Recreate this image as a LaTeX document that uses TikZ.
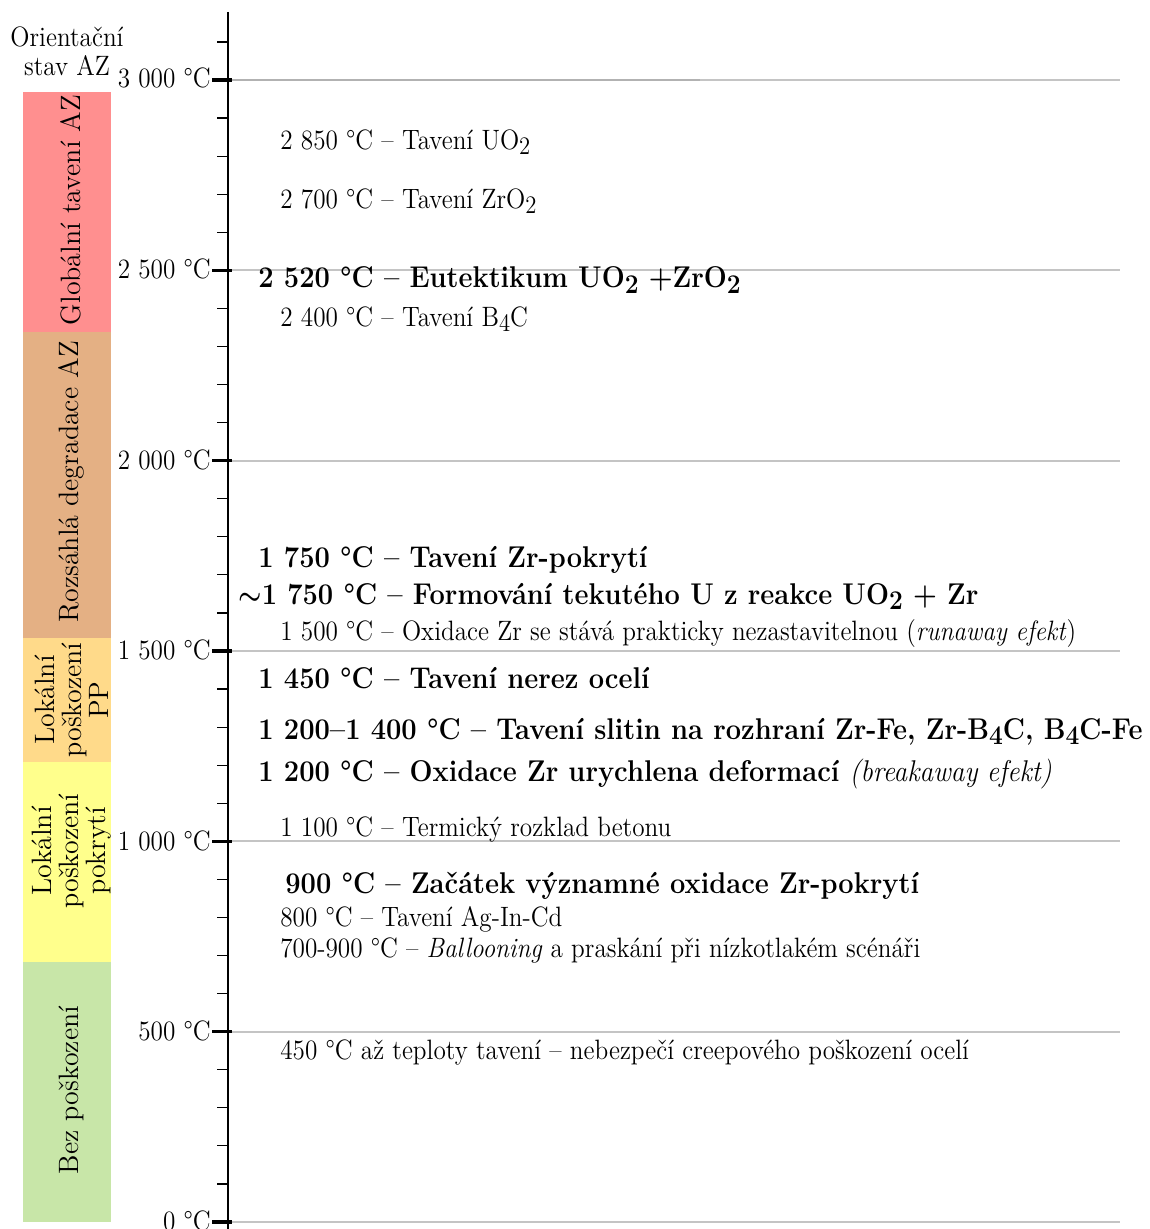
\documentclass[tikz,border=0pt]{standalone}
\usepackage{fontspec}
\definecolor{cglob}{RGB}{255,143,143}
\definecolor{crozs}{RGB}{228,176,132}
\definecolor{clokpp}{RGB}{255,218,138}
\definecolor{clokpok}{RGB}{255,255,140}
\definecolor{cbez}{RGB}{200,230,168}
\definecolor{gridgray}{RGB}{196,196,196}
\definecolor{griddark}{RGB}{178,178,178}
\newcommand{\sbs}[1]{\raisebox{-0.4ex}{\scalebox{0.9}{#1}}}
\begin{document}
\begin{tikzpicture}[x=0.5pt,y=-0.5pt,
  ev/.style={anchor=base west, inner sep=0pt, font=\fontsize{14}{16}\selectfont, xscale=0.9},
  evb/.style={anchor=base west, inner sep=0pt, font=\fontsize{15}{17}\selectfont\bfseries, xscale=0.908},
  ticklab/.style={anchor=base east, inner sep=0pt, font=\fontsize{14}{16}\selectfont, xscale=0.9},
  barlab/.style={rotate=90, align=center, inner sep=0pt, font=\fontsize{14}{13.5}\selectfont},
  gridline/.style={draw=gridgray, line width=1pt},
  minortick/.style={line width=0.6pt},
  majortick/.style={line width=1.6pt},
  axisline/.style={line width=1.2pt}]
\useasboundingbox (0,0) rectangle (1149,1229);
% bars
\fill[cglob]   (23,92)  rectangle (111,332);
\fill[crozs]   (23,332) rectangle (111,638);
\fill[clokpp]  (23,638) rectangle (111,762);
\fill[clokpok] (23,762) rectangle (111,962);
\fill[cbez]    (23,962) rectangle (111,1222);
\node[barlab] (lglob) at (71,210) {Globální tavení AZ};
\node[barlab] (lrozs) at (71,482) {Rozsáhlá degradace AZ};
\node[barlab] (llokpp) at (72,700) {Lokální\\poškození\\PP};
\node[barlab] (llokpok) at (72,851) {Lokální\\poškození\\pokrytí};
\node[barlab] (lbez) at (71,1090) {Bez poškození};
\node[align=center, inner sep=0pt, font=\fontsize{14}{14.5}\selectfont, xscale=0.9] (hdr) at (67,51) {Orientační\\stav AZ};
% grid lines and ticks
\foreach \k in {0,...,6}{
  \pgfmathsetmacro{\yy}{1222-\k*5*38.067}
  \draw[gridline] (232,\yy) -- (1120,\yy);
}
\draw[draw=griddark, line width=1pt] (232,80) -- (700,80);
\foreach \k in {0,...,31}{
  \pgfmathsetmacro{\yy}{1222-\k*38.067}
  \draw[minortick] (217,\yy) -- (228,\yy);
}
\foreach \k in {0,...,6}{
  \pgfmathsetmacro{\yy}{1222-\k*5*38.067}
  \draw[majortick] (212,\yy) -- (232,\yy);
}
\draw[axisline] (228,12) -- (228,1229);
% tick labels
\node[ticklab] (t3000) at (211,88) {3 000 °C};
\node[ticklab] (t2500) at (211,279) {2 500 °C};
\node[ticklab] (t2000) at (211,469) {2 000 °C};
\node[ticklab] (t1500) at (211,659) {1 500 °C};
\node[ticklab] (t1000) at (211,850) {1 000 °C};
\node[ticklab] (t500)  at (211,1040) {500 °C};
\node[ticklab] (t0)    at (211,1230) {0 °C};
% events
\node[ev]  (e2850) at (280,150) {2 850 °C -- Tavení UO\sbs{2}};
\node[ev]  (e2700) at (280,209) {2 700 °C -- Tavení ZrO\sbs{2}};
\node[evb] (e2520) at (258,288) {2 520 °C -- Eutektikum UO\sbs{2} +ZrO\sbs{2}};
\node[ev]  (e2400) at (280,327) {2 400 °C -- Tavení B\sbs{4}C};
\node[evb] (e1750) at (258,567) {1 750 °C -- Tavení Zr-pokrytí};
\node[evb] (e1750b) at (238,604) {{\boldmath$\sim$}1 750 °C -- Formování tekutého U z reakce UO\sbs{2} + Zr};
\node[ev]  (e1500) at (280,640) {1 500 °C -- Oxidace Zr se stává prakticky nezastavitelnou (\textit{runaway efekt})};
\node[evb] (e1450) at (258,688) {1 450 °C -- Tavení nerez ocelí};
\node[evb] (e1200a) at (258,739) {1 200--1 400 °C -- Tavení slitin na rozhraní Zr-Fe, Zr-B\sbs{4}C, B\sbs{4}C-Fe};
\node[evb] (e1200b) at (258,781) {1 200 °C -- Oxidace Zr urychlena deformací \textmd{\textit{(breakaway efekt)}}};
\node[ev]  (e1100) at (280,836) {1 100 °C -- Termický rozklad betonu};
\node[evb] (e900)  at (285,893) {900 °C -- Začátek významné oxidace Zr-pokrytí};
\node[ev]  (e800)  at (280,926) {800 °C -- Tavení Ag-In-Cd};
\node[ev]  (e700)  at (280,957) {700-900 °C -- \textit{Ballooning} a praskání při nízkotlakém scénáři};
\node[ev]  (e450)  at (280,1059) {450 °C až teploty tavení -- nebezpečí creepového poškození ocelí};
\end{tikzpicture}
\end{document}
